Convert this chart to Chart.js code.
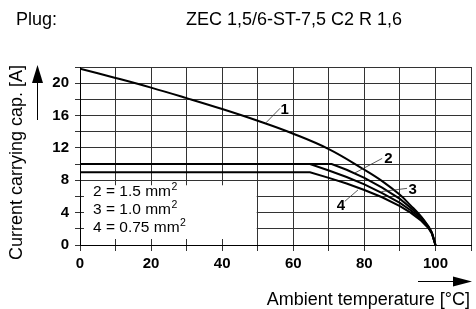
<!DOCTYPE html>
<html>
<head>
<meta charset="utf-8">
<script src="https://cdn.jsdelivr.net/npm/chart.js@4/dist/chart.umd.min.js"></script>
<style>
  html, body { margin: 0; padding: 0; background: #fff; }
  #wrap { width: 476px; height: 309px; }
</style>
</head>
<body>
<div id="wrap"><canvas id="canvas" width="476" height="309"></canvas></div>
<script>
// curve 1 (no wire size given)
const temps1 = [0, 10, 20, 30, 40, 50, 60, 70, 80, 85, 90, 93, 96, 98, 99, 100];
const amps1 = [21.8, 20.65, 19.45, 18.15, 16.8, 15.35, 13.75, 11.85, 9.3, 7.9, 6.2, 4.9, 3.5, 2.3, 1.5, 0];
// curve 2 = 1.5 mm2
const temps2 = [0, 70.8, 75, 80, 85, 90, 93, 96, 98, 99, 100];
const amps2 = [10, 10, 9.3, 8.3, 7.1, 5.7, 4.6, 3.4, 2.3, 1.5, 0];
// curve 3 = 1.0 mm2
const temps3 = [0, 64.7, 70, 75, 80, 85, 90, 93, 96, 98, 99, 100];
const amps3 = [10, 10, 9.2, 8.4, 7.5, 6.4, 5.2, 4.3, 3.2, 2.2, 1.5, 0];
// curve 4 = 0.75 mm2
const temps4 = [0, 64.7, 70, 75, 80, 85, 90, 93, 96, 98, 99, 100];
const amps4 = [9, 9, 8.3, 7.6, 6.8, 5.9, 4.8, 4.0, 3.0, 2.1, 1.4, 0];

const xTicks = [0, 20, 40, 60, 80, 100];
const yTicks = [0, 4, 8, 12, 16, 20];
const legendLines = [["2 = 1.5 mm", "2"], ["3 = 1.0 mm", "2"], ["4 = 0.75 mm", "2"]];
// curve number, label position, leader line from / to (data units)
const curveLabels = [
    { text: "1", x: 57.6, y: 16.7, from: [52.3, 15.1], to: [56.3, 16.9] },
    { text: "2", x: 86.8, y: 10.6, from: [77.3, 8.9], to: [85.0, 10.7] },
    { text: "3", x: 93.6, y: 6.8, from: [84.8, 6.6], to: [92.0, 7.0] },
    { text: "4", x: 73.4, y: 4.8, from: [74.5, 5.4], to: [78.2, 6.8] }
];

const FONT = "'Liberation Sans', Arial, sans-serif";

function pts(xs, ys) {
    return xs.map((x, i) => ({ x: x, y: ys[i] }));
}

const decor = {
    id: "decor",
    beforeDatasetsDraw(chart) {
        const c = chart.ctx;
        const xs = chart.scales.x;
        const ys = chart.scales.y;
        // white field behind the wire size legend
        const l = xs.getPixelForValue(0) + 4;
        const r = xs.getPixelForValue(50) - 1;
        const t = ys.getPixelForValue(8) + 5;
        const b = ys.getPixelForValue(0) - 6;
        c.save();
        c.fillStyle = "#fff";
        c.fillRect(l, t, r - l, b - t);
        c.restore();
    },
    afterDraw(chart) {
        const c = chart.ctx;
        const xs = chart.scales.x;
        const ys = chart.scales.y;
        const a = chart.chartArea;
        c.save();
        c.fillStyle = "#000";
        c.strokeStyle = "#000";

        // header
        c.font = "18px " + FONT;
        c.textBaseline = "alphabetic";
        c.textAlign = "left";
        c.fillText("Plug:", 16, 25);
        c.fillText("ZEC 1,5/6-ST-7,5 C2 R 1,6", 186, 25);

        // y axis title + arrow
        c.save();
        c.translate(21.5, 162.5);
        c.rotate(-Math.PI / 2);
        c.textAlign = "center";
        c.fillText("Current carrying cap. [A]", 0, 0);
        c.restore();
        c.lineWidth = 1;
        c.beginPath();
        c.moveTo(37.5, 82);
        c.lineTo(37.5, 120);
        c.stroke();
        c.beginPath();
        c.moveTo(37.5, a.top - 2);
        c.lineTo(32, 83);
        c.lineTo(43, 83);
        c.closePath();
        c.fill();

        // x axis title + arrow
        c.textAlign = "right";
        c.fillText("Ambient temperature [°C]", 470, 305);
        c.beginPath();
        c.moveTo(418, 281.5);
        c.lineTo(454, 281.5);
        c.stroke();
        c.beginPath();
        c.moveTo(472, 281.5);
        c.lineTo(453, 276.5);
        c.lineTo(453, 286.5);
        c.closePath();
        c.fill();

        // wire size legend
        c.textAlign = "left";
        legendLines.forEach((ln, i) => {
            const by = 196 + i * 18.2;
            c.font = "15.5px " + FONT;
            c.fillText(ln[0], 93, by);
            const w = c.measureText(ln[0]).width;
            c.font = "10.5px " + FONT;
            c.fillText(ln[1], 93 + w + 0.5, by - 6.5);
        });

        // curve numbers with leader lines
        c.lineWidth = 0.8;
        c.strokeStyle = "#333";
        curveLabels.forEach(lb => {
            c.beginPath();
            c.moveTo(xs.getPixelForValue(lb.from[0]), ys.getPixelForValue(lb.from[1]));
            c.lineTo(xs.getPixelForValue(lb.to[0]), ys.getPixelForValue(lb.to[1]));
            c.stroke();
        });
        c.font = "bold 15px " + FONT;
        c.textAlign = "center";
        c.textBaseline = "middle";
        curveLabels.forEach(lb => {
            c.fillText(lb.text, xs.getPixelForValue(lb.x), ys.getPixelForValue(lb.y));
        });
        c.restore();
    }
};

const lineStyle = {
    borderColor: "#000",
    borderWidth: 2,
    pointRadius: 0,
    fill: false
};

let CanvasEl = document.getElementById("canvas");
var ctx = CanvasEl.getContext("2d");

const chart = new Chart(ctx, {
    type: "line",
    data: {
        datasets: [
            Object.assign({ label: "1", data: pts(temps1, amps1), tension: 0.4 }, lineStyle),
            Object.assign({ label: "2", data: pts(temps2, amps2), tension: 0 }, lineStyle),
            Object.assign({ label: "3", data: pts(temps3, amps3), tension: 0 }, lineStyle),
            Object.assign({ label: "4", data: pts(temps4, amps4), tension: 0 }, lineStyle)
        ]
    },
    options: {
        responsive: false,
        animation: false,
        events: [],
        layout: { padding: { top: 67, right: 5, left: 0, bottom: 0 } },
        plugins: {
            legend: { display: false },
            tooltip: { enabled: false },
            title: { display: false }
        },
        scales: {
            x: {
                type: "linear",
                min: 0,
                max: 110,
                afterFit: s => { s.height = 64; },
                ticks: {
                    stepSize: 10,
                    autoSkip: false,
                    maxRotation: 0,
                    padding: 4,
                    color: "#000",
                    font: { family: FONT, size: 15, weight: "bold" },
                    callback: v => (xTicks.includes(v) ? v : "")
                },
                grid: { color: "#333", lineWidth: 1, tickLength: 6 },
                border: { color: "#000", width: 1 }
            },
            y: {
                min: 0,
                max: 22,
                afterFit: s => { s.width = 80; },
                ticks: {
                    stepSize: 2,
                    autoSkip: false,
                    padding: 6,
                    color: "#000",
                    font: { family: FONT, size: 15, weight: "bold" },
                    callback: v => (yTicks.includes(v) ? v : "")
                },
                grid: { color: "#333", lineWidth: 1, tickLength: 5 },
                border: { color: "#000", width: 1 }
            }
        }
    },
    plugins: [decor]
});
</script>
</body>
</html>
